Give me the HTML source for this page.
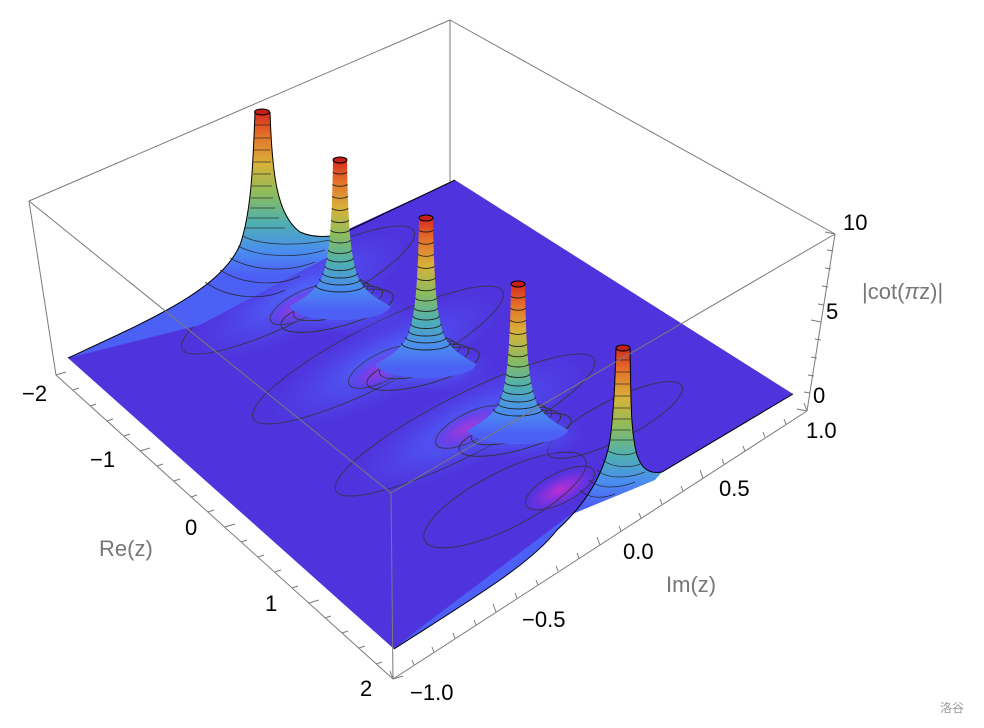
<!DOCTYPE html>
<html><head><meta charset="utf-8"><style>
html,body{margin:0;padding:0;background:#fff;}
svg{display:block;font-family:"Liberation Sans",sans-serif;}
</style></head><body>
<svg width="984" height="728" viewBox="0 0 984 728" xmlns="http://www.w3.org/2000/svg">
<defs>
<linearGradient id="pk" gradientUnits="userSpaceOnUse" x1="0" y1="0" x2="0" y2="150">
<stop offset="0" stop-color="#d62a1e"/><stop offset="0.15" stop-color="#e5742a"/><stop offset="0.32" stop-color="#d7b23a"/><stop offset="0.5" stop-color="#8cbc5c"/><stop offset="0.68" stop-color="#4fb0b0"/><stop offset="0.85" stop-color="#4a8ef0"/><stop offset="1" stop-color="#4d60f5"/>
</linearGradient>
<linearGradient id="pk1" href="#pk" gradientUnits="userSpaceOnUse" x1="0" y1="112" x2="0" y2="275"/>
<linearGradient id="pk5" href="#pk" gradientUnits="userSpaceOnUse" x1="0" y1="348" x2="0" y2="505"/>
<radialGradient id="mg"><stop offset="0" stop-color="#c030d0"/><stop offset="0.5" stop-color="#8a30e0" stop-opacity="0.7"/><stop offset="1" stop-color="#5030e0" stop-opacity="0"/></radialGradient>
<radialGradient id="lb"><stop offset="0" stop-color="#4f6cff"/><stop offset="1" stop-color="#4f50f0" stop-opacity="0"/></radialGradient>
<g id="peak">
<ellipse cx="0" cy="150" rx="70" ry="26" fill="url(#lb)"/>
<g fill="none" stroke="#333" stroke-width="0.9">
<ellipse cx="-3" cy="150" rx="58" ry="16" transform="rotate(-15 0 150)"/>
<ellipse cx="-2" cy="143" rx="46" ry="13" transform="rotate(-15 0 143)"/>
<ellipse cx="-1" cy="137" rx="36" ry="11" transform="rotate(-15 0 137)"/>
<ellipse cx="0" cy="132" rx="29" ry="9" transform="rotate(-15 0 132)"/>
</g>
<path d="M-7,0 C-8,60 -10,95 -18,118 C-26,134 -42,141 -50,146 A50,14 0 0 0 50,146 C42,141 26,134 18,118 C10,95 8,60 7,0 Z" fill="url(#pk)"/>
<g fill="none" stroke="#222" stroke-width="0.9">
<path d="M-7,12A7,2 0 0 0 7,12M-7.3,24A7.3,2.2 0 0 0 7.3,24M-7.7,36A7.7,2.3 0 0 0 7.7,36M-8,48A8,2.4 0 0 0 8,48M-8.6,60A8.6,2.6 0 0 0 8.6,60M-9.3,70A9.3,2.8 0 0 0 9.3,70M-10.3,80A10.3,3 0 0 0 10.3,80M-11.6,90A11.6,3.4 0 0 0 11.6,90M-13,98A13,4 0 0 0 13,98M-15,106A15,4.5 0 0 0 15,106M-17.5,113A17.5,5 0 0 0 17.5,113M-20.5,119A20.5,6 0 0 0 20.5,119M-24.5,125A24.5,7 0 0 0 24.5,125"/>
</g>
<ellipse cx="0" cy="0" rx="7" ry="3" fill="#c52018" stroke="#000" stroke-width="1"/>
</g>
</defs>
<g stroke="#7a7a7a" stroke-width="1" fill="none">
<line x1="29" y1="201" x2="450" y2="20"/><line x1="450" y1="20" x2="835" y2="234"/>
<line x1="450" y1="20" x2="450" y2="185"/>
<line x1="29" y1="201" x2="56" y2="375"/>
</g>
<path d="M68,358 L455,180 L793,394 L662,472 C650,474 642,470 637,455 L610,440 C605,470 590,500 557,530 C530,565 470,600 394,649 Z" fill="#4f33dc"/>
<g>
<ellipse cx="300" cy="295" rx="120" ry="40" fill="url(#lb)" transform="rotate(-27 300 295)"/>
<ellipse cx="385" cy="360" rx="130" ry="40" fill="url(#lb)" transform="rotate(-27 385 360)"/>
<ellipse cx="470" cy="425" rx="130" ry="40" fill="url(#lb)" transform="rotate(-27 470 425)"/>
<ellipse cx="300" cy="306" rx="40" ry="16" fill="url(#mg)" transform="rotate(-27 300 306)"/>
<ellipse cx="385" cy="368" rx="45" ry="17" fill="url(#mg)" transform="rotate(-27 385 368)"/>
<ellipse cx="468" cy="428" rx="45" ry="17" fill="url(#mg)" transform="rotate(-27 468 428)"/>
<ellipse cx="560" cy="490" rx="45" ry="18" fill="url(#mg)" transform="rotate(-27 560 490)"/>
</g>
<g fill="none" stroke="#333" stroke-width="0.9" opacity="0.85">
<ellipse cx="298" cy="290" rx="130" ry="28" transform="rotate(-27 298 290)"/>
<ellipse cx="302" cy="305" rx="35" ry="13" transform="rotate(-27 302 305)"/>
<ellipse cx="378" cy="355" rx="140" ry="30" transform="rotate(-27 378 355)"/>
<ellipse cx="383" cy="367" rx="38" ry="14" transform="rotate(-27 383 367)"/>
<ellipse cx="465" cy="425" rx="145" ry="30" transform="rotate(-27 465 425)"/>
<ellipse cx="470" cy="427" rx="38" ry="14" transform="rotate(-27 470 427)"/>
<ellipse cx="505" cy="500" rx="90" ry="28" transform="rotate(-27 505 500)"/>
<ellipse cx="560" cy="488" rx="38" ry="15" transform="rotate(-27 560 488)"/>
<ellipse cx="615" cy="420" rx="75" ry="20" transform="rotate(-27 615 420)"/>
</g>
<path d="M68,358 C150,320 220,290 240,245 C252,210 253,160 255,112 L270,112 C272,170 276,215 300,232 C318,240 340,236 350,230 L345,248 L200,325 Z" fill="url(#pk1)"/>
<path d="M68,358 C150,320 220,290 240,245 C252,210 253,160 255,112 M270,112 C272,170 276,215 300,232 C318,240 340,236 350,230 L455,180" fill="none" stroke="#000" stroke-width="1"/>
<g fill="none" stroke="#222" stroke-width="0.8" opacity="0.85">
<path d="M255,125h15M254,138h16M254,150h16M253,162h18M253,174h18M252,186h20M251,198h22M250,208h25M248,218h31M245,228h40"/>
<path d="M243,236 C260,246 300,246 330,240M238,246 C260,258 300,258 325,250M230,258 C255,272 290,272 315,262M220,270 C245,286 280,286 300,276M205,282 C230,300 265,300 285,290"/>
</g>
<use href="#peak" x="340" y="160"/>
<use href="#peak" x="426" y="218"/>
<use href="#peak" x="518" y="284"/>
<path d="M394,649 C470,600 530,565 557,530 C590,500 605,470 610,440 C614,410 615,380 616,348 L630,348 C631,390 630,430 637,455 C642,470 650,474 662,472 L655,480 L570,515 L420,628 Z" fill="url(#pk5)"/>
<path d="M394,649 C470,600 530,565 557,530 C590,500 605,470 610,440 C614,410 615,380 616,348 M630,348 C631,390 630,430 637,455 C642,470 650,474 662,472 L793,394" fill="none" stroke="#000" stroke-width="1"/>
<g fill="none" stroke="#222" stroke-width="0.8" opacity="0.85">
<path d="M616,360h14M615,372h15M615,384h15M614,396h16M613,408h17M612,419h19M611,430h20M609,440h24"/>
<path d="M607,450 C615,456 630,456 636,452M603,460 C612,468 632,468 640,464M597,470 C608,480 630,478 645,472M589,480 C600,490 620,488 635,482M580,490 C590,500 605,498 615,494"/>
</g>
<ellipse cx="623" cy="348" rx="7" ry="3" fill="#c52018" stroke="#000"/>
<ellipse cx="262" cy="112" rx="7.5" ry="3" fill="#c52018" stroke="#000"/>
<g stroke="#7a7a7a" stroke-width="1" fill="none">
<line x1="29" y1="201" x2="391" y2="493"/><line x1="391" y1="493" x2="835" y2="234"/>
<line x1="391" y1="493" x2="393" y2="679"/>
<line x1="56" y1="375" x2="393" y2="679"/><line x1="393" y1="679" x2="807" y2="411"/>
<line x1="835" y1="234" x2="807" y2="411"/>
</g>
<g stroke="#7a7a7a" stroke-width="1">
<path d="M56,375l10,-3M73,390l6,-2M90,406l6,-2M107,421l6,-2M124,436l6,-2M140,451l10,-3M157,466l6,-2M174,481l6,-2M191,497l6,-2M208,512l6,-2M225,527l10,-3M241,542l6,-2M258,557l6,-2M275,572l6,-2M292,588l6,-2M309,603l10,-3M325,618l6,-2M342,633l6,-2M359,648l6,-2M376,664l6,-2M393,679l10,-3"/>
<path d="M393,679l-3,-8M414,665l-2,-5M434,652l-2,-5M455,638l-2,-5M476,625l-2,-5M496,612l-3,-8M517,598l-2,-5M538,585l-2,-5M558,571l-2,-5M579,558l-2,-5M600,545l-3,-8M621,531l-2,-5M641,518l-2,-5M662,504l-2,-5M683,491l-2,-5M703,478l-3,-8M724,464l-2,-5M745,451l-2,-5M765,437l-2,-5M786,424l-2,-5M807,411l-3,-8"/>
<path d="M807,411l-10,-2M810,393l-6,-1M814,376l-6,-1M817,358l-6,-1M821,340l-6,-1M821,322l-10,-2M824,305l-6,-1M828,287l-6,-1M831,269l-6,-1M833,251l-6,-1M835,234l-10,-2"/>
</g>
<g font-size="22" fill="#000">
<text x="22" y="401">−2</text><text x="90" y="467">−1</text><text x="185" y="535">0</text><text x="265" y="611">1</text><text x="360" y="696">2</text>
<text x="410" y="700">−1.0</text><text x="522" y="627">−0.5</text><text x="623" y="559">0.0</text><text x="719" y="496">0.5</text><text x="806" y="438">1.0</text>
<text x="813" y="403">0</text><text x="826" y="319">5</text><text x="843" y="230">10</text>
</g>
<g font-size="22" fill="#777">
<text x="99" y="556">Re(z)</text><text x="666" y="592">Im(z)</text><text x="862" y="299">|cot(<tspan font-style="italic">π</tspan>z)|</text>
</g>
<text x="940" y="712" font-size="12" fill="#999" font-family="'Liberation Sans','Noto Sans CJK SC',sans-serif">洛谷</text>
</svg>
</body></html>
